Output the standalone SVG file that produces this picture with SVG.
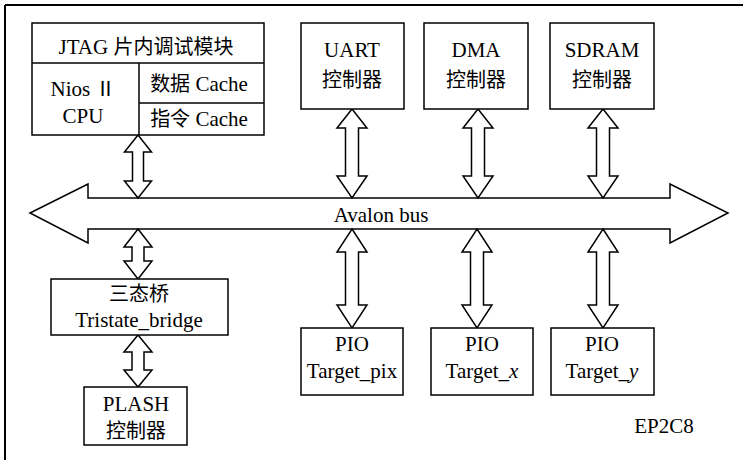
<svg xmlns="http://www.w3.org/2000/svg" width="743" height="460" viewBox="0 0 743 460">
<style>
  .box { fill: #fff; stroke: #000; stroke-width: 1.5; }
  .ln { stroke: #000; stroke-width: 1.5; fill: none; }
  .arr { fill: #fff; stroke: #000; stroke-width: 1.5; stroke-linejoin: miter; }
  text { font-family: 'Liberation Serif', 'Times New Roman', 'DejaVu Serif', serif; font-size: 21px; fill: #000; text-anchor: middle; }
  .cjk { font-family: 'Noto Sans CJK SC', sans-serif; font-size: 20px; }
  .it { font-style: italic; }
</style>
<rect x="0" y="0" width="743" height="460" fill="#fff"/>
<g id="frame">
  <line x1="5" y1="5" x2="743" y2="5" stroke="#000" stroke-width="2"/>
  <line x1="5" y1="5" x2="5" y2="460" stroke="#000" stroke-width="2"/>
</g>
<g id="connectors">
  <polygon id="bus" class="arr" points="30,213 88,184 88,198 670,198 670,184 728,213 670,243 670,229 88,229 88,243"/>
  <polygon class="arr" points="138,135 151.5,152 143.5,152 143.5,181 151.5,181 138,198 124.5,181 132.5,181 132.5,152 124.5,152"/>
  <polygon class="arr" points="138,229 152,247 144,247 144,261 152,261 138,279 124,261 132,261 132,247 124,247"/>
  <polygon class="arr" points="138,335 152,352 144,352 144,370 152,370 138,387 124,370 132,370 132,352 124,352"/>
  <polygon class="arr" points="352,109 367,128 358.5,128 358.5,176 367,176 352,198 337,176 345.5,176 345.5,128 337,128"/>
  <polygon class="arr" points="478,109 493,128 484.5,128 484.5,176 493,176 478,198 463,176 471.5,176 471.5,128 463,128"/>
  <polygon class="arr" points="603,109 618,128 609.5,128 609.5,176 618,176 603,198 588,176 596.5,176 596.5,128 588,128"/>
  <polygon class="arr" points="352,229 367,252 358.5,252 358.5,305 367,305 352,328 337,305 345.5,305 345.5,252 337,252"/>
  <polygon class="arr" points="477,229 492,252 483.5,252 483.5,305 492,305 477,328 462,305 470.5,305 470.5,252 462,252"/>
  <polygon class="arr" points="603,229 618,252 609.5,252 609.5,305 618,305 603,328 588,305 596.5,305 596.5,252 588,252"/>
</g>
<text x="381" y="222">Avalon bus</text>
<g id="cpu">
  <rect class="box" x="32" y="23" width="232" height="112"/>
  <line class="ln" x1="32" y1="63" x2="264" y2="63"/>
  <line class="ln" x1="139" y1="63" x2="139" y2="135"/>
  <line class="ln" x1="139" y1="103" x2="264" y2="103"/>
  <text x="146" y="54">JTAG <tspan class="cjk">片内调试模块</tspan></text>
  <text x="83" y="96">Nios <tspan class="cjk">Ⅱ</tspan></text>
  <text x="83" y="123">CPU</text>
  <text x="199" y="91"><tspan class="cjk">数据</tspan> Cache</text>
  <text x="199" y="126"><tspan class="cjk">指令</tspan> Cache</text>
</g>
<g id="uart">
  <rect class="box" x="301" y="23" width="103" height="86"/>
  <text x="352" y="57">UART</text>
  <text class="cjk" x="352" y="87">控制器</text>
</g>
<g id="dma">
  <rect class="box" x="424" y="23" width="104" height="86"/>
  <text x="476" y="57">DMA</text>
  <text class="cjk" x="476" y="87">控制器</text>
</g>
<g id="sdram">
  <rect class="box" x="550" y="23" width="104" height="86"/>
  <text x="602" y="57">SDRAM</text>
  <text class="cjk" x="602" y="87">控制器</text>
</g>
<g id="tristate">
  <rect class="box" x="51" y="279" width="177" height="56"/>
  <text class="cjk" x="139" y="301">三态桥</text>
  <text x="139" y="327">Tristate_bridge</text>
</g>
<g id="plash">
  <rect class="box" x="84" y="387" width="103" height="58"/>
  <text x="136" y="411">PLASH</text>
  <text class="cjk" x="136" y="438">控制器</text>
</g>
<g id="pio_pix">
  <rect class="box" x="301" y="328" width="102" height="67"/>
  <text x="352" y="351">PIO</text>
  <text x="352" y="378">Target_pix</text>
</g>
<g id="pio_x">
  <rect class="box" x="431" y="328" width="102" height="67"/>
  <text x="482" y="351">PIO</text>
  <text x="482" y="378">Target_<tspan class="it">x</tspan></text>
</g>
<g id="pio_y">
  <rect class="box" x="551" y="328" width="103" height="67"/>
  <text x="602" y="351">PIO</text>
  <text x="602" y="378">Target_<tspan class="it">y</tspan></text>
</g>
<text x="664" y="433">EP2C8</text>
</svg>
